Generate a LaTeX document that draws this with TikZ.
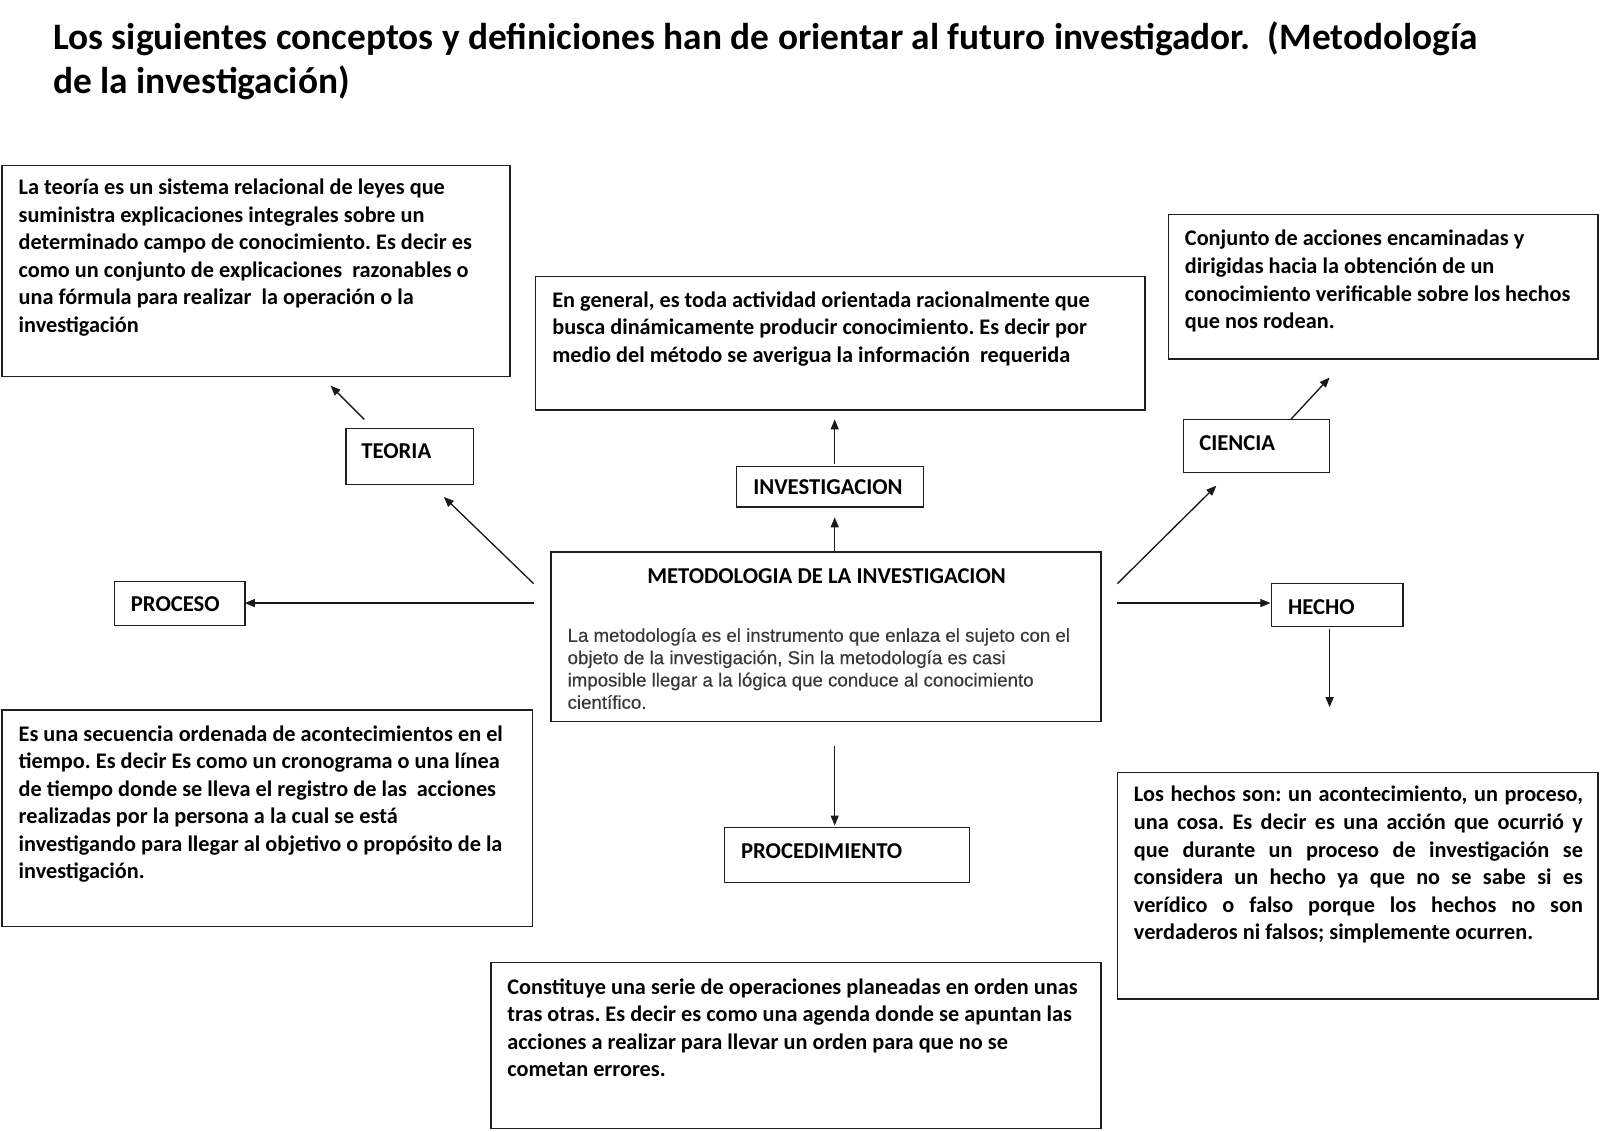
\documentclass[tikz,border=0pt]{standalone}
\usepackage{fontspec}
\setmainfont{Carlito}
\newfontfamily\arialfont[FakeBold=0.4]{Liberation Sans}
\usetikzlibrary{arrows.meta,calc,fit}
\begin{document}
\frenchspacing
\begin{tikzpicture}[x=0.765pt,y=-0.765pt,
  box/.style={draw=black!88, line width=1.1pt, inner sep=0pt},
  bodytxt/.style={anchor=north west, inner sep=0pt, align=left,
    font=\fontsize{16.7pt}{20.66pt}\selectfont\bfseries\frenchspacing},
  lbl/.style={anchor=base west, inner sep=0pt,
    font=\fontsize{17pt}{20.66pt}\selectfont\bfseries},
  titletxt/.style={anchor=north west, inner sep=0pt, align=left,
    font=\fontsize{28pt}{33pt}\selectfont\bfseries\frenchspacing},
  mettxt/.style={anchor=north west, inner sep=0pt, align=left, text=black!78,
    font=\fontsize{14pt}{16.75pt}\arialfont\selectfont\frenchspacing},
  arr/.style={line width=1pt, draw=black!90, -{Triangle[length=7.5pt,width=6pt]}}
]
\newcommand{\fr}{\rule{0pt}{14pt}}
\useasboundingbox[fill=white] (0,0) rectangle (1568,1108.4);

% title
\node[titletxt] (title) at (52,14.3) {\rule{0pt}{26pt}Los siguientes conceptos y definiciones han de orientar al futuro investigador.\ \ (Metodología\\de la investigación)};

% definition boxes
\node[box, fit={(2,162) (500,369)}] (tdefbox) {};
\node[bodytxt] (tdef) at (18,172.2) {\fr La teoría es un sistema relacional de leyes que\\suministra explicaciones integrales sobre un\\determinado campo de conocimiento. Es decir es\\como un conjunto de explicaciones\ \ razonables o\\una fórmula para realizar\ \ la operación o la\\investigación};

\node[box, fit={(525,271) (1122,402)}] (idefbox) {};
\node[bodytxt] (idef) at (541,282.7) {\fr En general, es toda actividad orientada racionalmente que\\busca dinámicamente producir conocimiento. Es decir por\\medio del método se averigua la información\ \ requerida};

\node[box, fit={(1145,210) (1566,352)}] (cdefbox) {};
\node[bodytxt] (cdef) at (1161,222.5) {\fr Conjunto de acciones encaminadas y\\dirigidas hacia la obtención de un\\conocimiento verificable sobre los hechos\\que nos rodean.};

\node[box, fit={(2,696) (522,908)}] (pdefbox) {};
\node[bodytxt] (pdef) at (18,707.7) {\fr Es una secuencia ordenada de acontecimientos en el\\tiempo. Es decir Es como un cronograma o una línea\\de tiempo donde se lleva el registro de las\ \ acciones\\realizadas por la persona a la cual se está\\investigando para llegar al objetivo o propósito de la\\investigación.};

\node[box, fit={(1095,757) (1566,979)}] (hdefbox) {};
\node[bodytxt] (hdef) at (1111,767.3) {\fr\makebox[336.6pt][s]{Los hechos son: un acontecimiento, un proceso,}\\\makebox[336.6pt][s]{una cosa. Es decir es una acción que ocurrió y}\\\makebox[336.6pt][s]{que durante un proceso de investigación se}\\\makebox[336.6pt][s]{considera un hecho ya que no se sabe si es}\\\makebox[336.6pt][s]{verídico o falso porque los hechos no son}\\verdaderos ni falsos; simplemente ocurren.};

\node[box, fit={(481,943) (1079,1106)}] (prdefbox) {};
\node[bodytxt] (prdef) at (497,955.7) {\fr Constituye una serie de operaciones planeadas en orden unas\\tras otras. Es decir es como una agenda donde se apuntan las\\acciones a realizar para llevar un orden para que no se\\cometan errores.};

% central box
\node[box, fit={(540,541) (1079,707)}] (metbox) {};
\node[anchor=base, inner sep=0pt, font=\fontsize{17pt}{20.66pt}\selectfont\bfseries] (mettitle) at (810,572) {METODOLOGIA DE LA INVESTIGACION};
\node[mettxt] (metbody) at (556,613) {\rule{0pt}{12pt}La metodología es el instrumento que enlaza el sujeto con el\\objeto de la investigación, Sin la metodología es casi\\imposible llegar a la lógica que conduce al conocimiento\\científico.};

% label boxes
\node[box, fit={(339,420) (464,475)}] (teoriabox) {};
\node[lbl] (teoria) at (354,449) {TEORIA};
\node[box, fit={(722,457) (905,497)}] (invbox) {};
\node[lbl] (inv) at (738,485) {INVESTIGACION};
\node[box, fit={(1160,411) (1303,463)}] (cienciabox) {};
\node[lbl] (ciencia) at (1175,441) {CIENCIA};
\node[box, fit={(112,570) (240,613)}] (procesobox) {};
\node[lbl] (proceso) at (128,599) {PROCESO};
\node[box, fit={(1246,572) (1375,614)}] (hechobox) {};
\node[lbl] (hecho) at (1262,602.5) {HECHO};
\node[box, fit={(710,811) (950,865)}] (procbox) {};
\node[lbl] (proc) at (726,841) {PROCEDIMIENTO};

% connector end points
\coordinate (a1s) at (357,411); \coordinate (a1e) at (324,378);
\coordinate (a2s) at (523,572); \coordinate (a2e) at (435,487);
\coordinate (a3s) at (818,455); \coordinate (a3e) at (818,411);
\coordinate (a4s) at (818,540); \coordinate (a4e) at (818,507);
\coordinate (a5s) at (1095,572); \coordinate (a5e) at (1192,476);
\coordinate (a6s) at (1265,411); \coordinate (a6e) at (1303,370);
\coordinate (a7s) at (523,591); \coordinate (a7e) at (240,591);
\coordinate (a8s) at (1095,591); \coordinate (a8e) at (1245,591);
\coordinate (a9s) at (1303,616); \coordinate (a9e) at (1303,693);
\coordinate (a10s) at (818,731); \coordinate (a10e) at (818,809);

\draw[arr] (a1s) -- (a1e);
\draw[arr] (a2s) -- (a2e);
\draw[arr] (a3s) -- (a3e);
\draw[arr] (a4s) -- (a4e);
\draw[arr] (a5s) -- (a5e);
\draw[arr] (a6s) -- (a6e);
\draw[arr] (a7s) -- (a7e);
\draw[arr] (a8s) -- (a8e);
\draw[arr] (a9s) -- (a9e);
\draw[arr] (a10s) -- (a10e);
\end{tikzpicture}
\end{document}
